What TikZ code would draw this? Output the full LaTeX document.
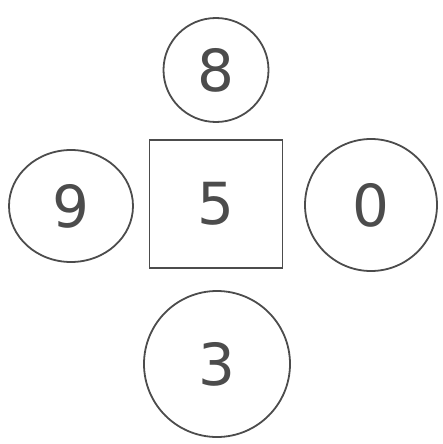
\documentclass[tikz,border=0pt]{standalone}
\usepackage{fontspec}
\setmainfont{DejaVu Sans}
\usetikzlibrary{shapes.geometric}
\begin{document}
\begin{tikzpicture}[x=1pt,y=-1pt,
  pencil/.style={draw=black!70,line width=1.8pt},
  digit/.style={font=\fontsize{58}{58}\fontseries{l}\selectfont,text=black!70},
  ring/.style={pencil,ellipse,inner sep=0pt,outer sep=0pt}]
\useasboundingbox (0,0) rectangle (443,444);
\node[pencil,rectangle,minimum width=133pt,minimum height=128pt,anchor=center] (sq) at (216,204) {};
\node[digit] (five) at (sq) {5};
\node[ring,minimum width=105pt,minimum height=104pt] (top) at (216,70) {};
\node[digit] (eight) at (top) {8};
\node[ring,minimum width=124pt,minimum height=112pt] (left) at (71,206) {};
\node[digit] (nine) at (left) {9};
\node[ring,minimum width=132pt,minimum height=132pt] (right) at (371,205) {};
\node[digit] (zero) at (right) {0};
\node[ring,minimum width=146pt,minimum height=146pt] (bottom) at (217,364) {};
\node[digit] (three) at (bottom) {3};
\end{tikzpicture}
\end{document}
